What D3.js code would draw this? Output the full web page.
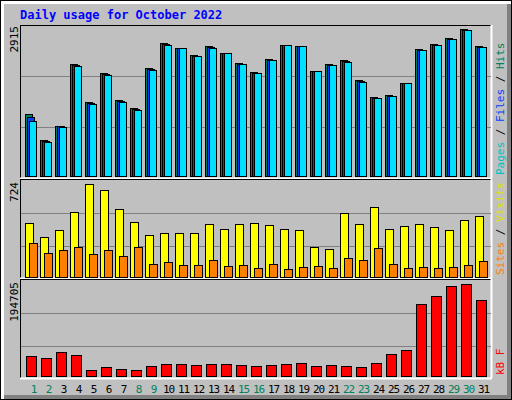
<!DOCTYPE html><html><head><script src="https://cdn.jsdelivr.net/npm/d3@7"></script>
<style>body{margin:0;background:#fff}svg{display:block}</style></head><body><script>
const days=d3.range(1,32);
const weekend=[1,2,8,9,15,16,22,23,29,30];
const hits=[1249,734,1011,2221,1487,2042,1507,1368,2142,2637,2538,2399,2578,2439,2241,2062,2320,2598,2578,2082,2221,2300,1904,1567,1606,1844,2518,2618,2737,2915,2578];
const files=[1190,714,1001,2201,1457,2022,1497,1348,2122,2617,2538,2389,2558,2439,2231,2052,2310,2598,2578,2082,2211,2280,1884,1557,1596,1844,2508,2608,2727,2905,2568];
const pages=[1110,694,992,2181,1428,2003,1487,1329,2102,2598,2538,2380,2538,2439,2221,2042,2300,2598,2578,2082,2201,2261,1864,1547,1586,1844,2499,2598,2717,2895,2558];
const visits=[420,319,366,506,724,677,529,428,335,343,343,343,413,374,413,420,405,381,366,241,226,498,413,545,381,397,413,389,366,444,475];
const sites=[272,195,218,241,187,218,171,241,109,125,101,101,140,93,101,78,109,70,86,93,78,156,140,234,109,78,86,78,86,101,132];
const kbytes=[44436,40204,52900,46552,14812,21160,16928,14812,23276,27508,27508,25392,27508,27508,25392,23276,25392,27508,29624,23276,25392,23276,21160,29624,48668,57132,152352,169280,190440,194705,160816];
const W=512,H=400,font="DejaVu Sans Mono";
const svg=d3.select("body").append("svg").attr("width",W).attr("height",H);
svg.append("rect").attr("width",W).attr("height",H).attr("fill","#fff");
svg.append("rect").attr("x",0.5).attr("y",0.5).attr("width",W-1).attr("height",H-1).attr("fill","none").attr("stroke","#000");
svg.append("rect").attr("x",4).attr("y",4).attr("width",W-9).attr("height",H-9).attr("fill","#c0c0c0");
svg.append("rect").attr("x",W-5).attr("y",4).attr("width",4).attr("height",H-5).attr("fill","#808080");
svg.append("rect").attr("x",4).attr("y",H-5).attr("width",W-5).attr("height",4).attr("fill","#808080");
svg.append("text").attr("x",20).attr("y",19).attr("fill","#0000ff").attr("font-family",font).attr("font-weight","bold").attr("font-size",12).text("Daily usage for October 2022");
const x=d3.scaleBand().domain(days).range([20,485]).paddingInner(0).paddingOuter(0);
const L=20,R=491;
function panel(top,bot){
  svg.append("line").attr("x1",L).attr("x2",R).attr("y1",top+0.5).attr("y2",top+0.5).attr("stroke","#000");
  svg.append("line").attr("x1",L+0.5).attr("x2",L+0.5).attr("y1",top).attr("y2",bot).attr("stroke","#000");
  svg.append("line").attr("x1",L).attr("x2",R+1).attr("y1",bot+0.5).attr("y2",bot+0.5).attr("stroke","#fff").attr("stroke-width",2);
  svg.append("line").attr("x1",R+0.5).attr("x2",R+0.5).attr("y1",top).attr("y2",bot).attr("stroke","#fff").attr("stroke-width",2);
}
function grid(ys){ys.forEach(y=>svg.append("line").attr("x1",L+1).attr("x2",R).attr("y1",y+0.5).attr("y2",y+0.5).attr("stroke","#808080"));}
function bars(data,y,off,w,fill){
  svg.append("g").selectAll("rect").data(data).join("rect")
   .attr("x",(d,i)=>x(days[i])+off+0.5).attr("y",d=>Math.round(y(d))+0.5)
   .attr("width",w).attr("height",d=>y(0)-Math.round(y(d))-1)
   .attr("fill",fill).attr("stroke","#000");
}
function ylab(t,yy){svg.append("text").attr("transform",`translate(18,${yy}) rotate(-90)`).attr("text-anchor","end").attr("font-family",font).attr("font-size",11).text(t);}
function rlab(parts,yy){const t=svg.append("text").attr("transform",`translate(504,${yy}) rotate(-90)`).attr("font-family",font).attr("font-size",11);
  parts.forEach(p=>t.append("tspan").attr("fill",p[1]).text(p[0]));}
// top
panel(25,178);grid([76,127]);
const y1=d3.scaleLinear().domain([0,2915]).range([177,29]);
bars(hits,y1,5,7,"#00805c");bars(files,y1,7,7,"#0040ff");bars(pages,y1,9,7,"#00e0ff");
ylab("2915",26);rlab([["Pages","#00c0c0"],[" / ","#000"],["Files","#0040ff"],[" / ","#000"],["Hits","#00805c"]],175);
// middle
panel(179,278);grid([213,246]);
const y2=d3.scaleLinear().domain([0,724]).range([278,184]);
bars(visits,y2,5,8,"#ffff00");bars(sites,y2,9,8,"#ff8000");
ylab("724",182);rlab([["Sites","#ff8000"],[" / ","#000"],["Visits","#e0e000"]],275);
// bottom
panel(279,378);grid([313,346]);
const y3=d3.scaleLinear().domain([0,194705]).range([377,284]);
bars(kbytes,y3,6,10,"#ff0000");
ylab("194705",282);rlab([["kB F","#ff0000"]],375);
svg.append("g").selectAll("text").data(days).join("text")
 .attr("x",d=>x(d)+x.bandwidth()/2+6).attr("y",393).attr("text-anchor","middle")
 .attr("font-family",font).attr("font-size",11).attr("letter-spacing",-1)
 .attr("fill",d=>weekend.includes(d)?"#00805c":"#000").text(d=>d);
</script></body></html>
